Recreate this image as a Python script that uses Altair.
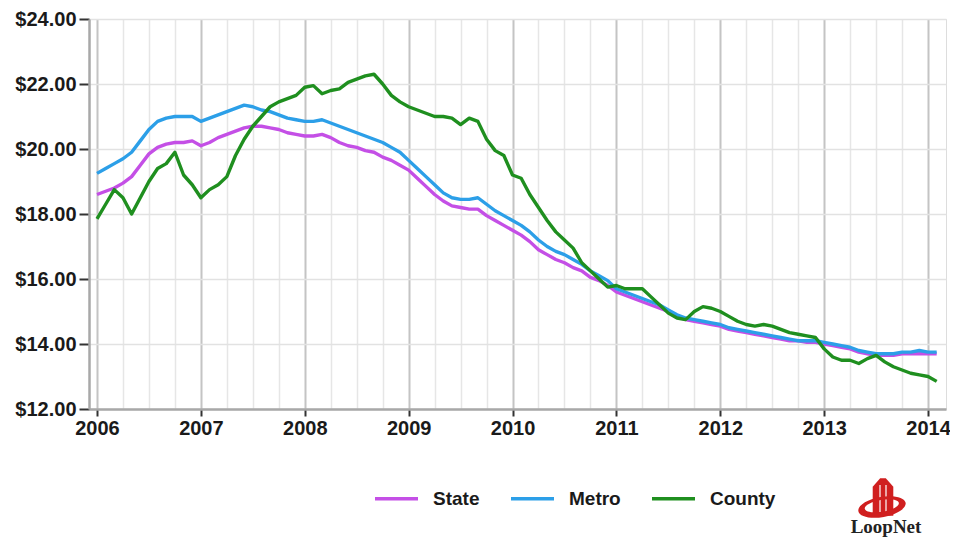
import altair as alt
import pandas as pd

# Monthly asking rents, Jan 2006 .. Feb 2014
start_year = 2006
state = [18.6, 18.7, 18.8, 18.95, 19.15, 19.5, 19.85, 20.05, 20.15, 20.2, 20.2, 20.25,
         20.1, 20.2, 20.35, 20.45, 20.55, 20.65, 20.7, 20.7, 20.65, 20.6, 20.5, 20.45,
         20.4, 20.4, 20.45, 20.35, 20.2, 20.1, 20.05, 19.95, 19.9, 19.75, 19.65, 19.5,
         19.35, 19.1, 18.85, 18.6, 18.4, 18.25, 18.2, 18.15, 18.15, 17.95, 17.8, 17.65,
         17.5, 17.35, 17.15, 16.9, 16.75, 16.6, 16.5, 16.35, 16.25, 16.05, 15.95, 15.8,
         15.6, 15.5, 15.4, 15.3, 15.2, 15.1, 15.0, 14.85, 14.75, 14.7, 14.65, 14.6,
         14.55, 14.45, 14.4, 14.35, 14.3, 14.25, 14.2, 14.15, 14.1, 14.1, 14.05, 14.05,
         14.0, 13.95, 13.9, 13.85, 13.75, 13.7, 13.65, 13.65, 13.65, 13.7, 13.7, 13.7,
         13.7, 13.7]
metro = [19.25, 19.4, 19.55, 19.7, 19.9, 20.25, 20.6, 20.85, 20.95, 21.0, 21.0, 21.0,
         20.85, 20.95, 21.05, 21.15, 21.25, 21.35, 21.3, 21.2, 21.15, 21.05, 20.95, 20.9,
         20.85, 20.85, 20.9, 20.8, 20.7, 20.6, 20.5, 20.4, 20.3, 20.2, 20.05, 19.9,
         19.65, 19.4, 19.15, 18.9, 18.65, 18.5, 18.45, 18.45, 18.5, 18.3, 18.1, 17.95,
         17.8, 17.65, 17.45, 17.2, 17.0, 16.85, 16.75, 16.6, 16.45, 16.25, 16.1, 15.95,
         15.7, 15.6, 15.5, 15.4, 15.3, 15.2, 15.05, 14.9, 14.8, 14.75, 14.7, 14.65,
         14.6, 14.5, 14.45, 14.4, 14.35, 14.3, 14.25, 14.2, 14.15, 14.1, 14.1, 14.1,
         14.05, 14.0, 13.95, 13.9, 13.8, 13.75, 13.7, 13.7, 13.7, 13.75, 13.75, 13.8,
         13.75, 13.75]
county = [17.85, 18.3, 18.75, 18.5, 18.0, 18.5, 19.0, 19.4, 19.55, 19.9, 19.2, 18.9,
          18.5, 18.75, 18.9, 19.15, 19.8, 20.3, 20.7, 21.0, 21.3, 21.45, 21.55, 21.65,
          21.9, 21.95, 21.7, 21.8, 21.85, 22.05, 22.15, 22.25, 22.3, 22.0, 21.65, 21.45,
          21.3, 21.2, 21.1, 21.0, 21.0, 20.95, 20.75, 20.95, 20.85, 20.3, 19.95, 19.8,
          19.2, 19.1, 18.6, 18.2, 17.8, 17.45, 17.2, 16.95, 16.5, 16.25, 16.0, 15.75,
          15.8, 15.7, 15.7, 15.7, 15.45, 15.2, 14.95, 14.8, 14.75, 15.0, 15.15, 15.1,
          15.0, 14.85, 14.7, 14.6, 14.55, 14.6, 14.55, 14.45, 14.35, 14.3, 14.25, 14.2,
          13.85, 13.6, 13.5, 13.5, 13.4, 13.55, 13.65, 13.45, 13.3, 13.2, 13.1, 13.05,
          13.0, 12.85]

series_names = ["State", "Metro", "County"]
series_colors = ["#c44fe6", "#2c9fe8", "#1f8f1f"]
quarter_ticks = [2006 + q * 0.25 for q in range(0, 33)]
y_ticks = [12, 14, 16, 18, 20, 22, 24]

rows = []
for name, vals in zip(series_names, [state, metro, county]):
    for m, v in enumerate(vals):
        rows.append({"t": start_year + m / 12.0, "value": v, "series": name})
df = pd.DataFrame(rows)

FONT = "Liberation Sans"

x_axis = alt.Axis(
    values=quarter_ticks,
    labelExpr="datum.value % 1 === 0 ? format(datum.value, 'd') : ''",
    labelFont=FONT, labelFontSize=20, labelFontWeight="bold", labelColor="#1a1a1a",
    labelPadding=2, labelFlush=False, labelOverlap=False,
    tickSize=7, tickWidth=2, tickColor="#333333",
    tickOpacity={"condition": {"test": "datum.value % 1 === 0", "value": 1}, "value": 0},
    gridColor={"condition": {"test": "datum.value % 1 === 0", "value": "#c4c4c4"}, "value": "#e6e6e6"},
    gridWidth={"condition": {"test": "datum.value % 1 === 0", "value": 2}, "value": 1.5},
    domainColor="#a8a8a8", domainWidth=2.5, title=None,
)
y_axis = alt.Axis(
    values=y_ticks, format="$.2f",
    labelFont=FONT, labelFontSize=20, labelFontWeight="bold", labelColor="#1a1a1a",
    labelPadding=3, labelFlush=False,
    tickSize=10, tickWidth=2, tickColor="#333333",
    gridColor="#e2e2e2", gridWidth=1.5,
    domainColor="#a8a8a8", domainWidth=2.5, title=None,
)

lines = alt.Chart(df).mark_line(strokeWidth=3.4, strokeJoin="round").encode(
    x=alt.X("t:Q", scale=alt.Scale(domain=[2005.923, 2014.173], nice=False, zero=False), axis=x_axis),
    y=alt.Y("value:Q", scale=alt.Scale(domain=[12, 24], nice=False, zero=False), axis=y_axis),
    color=alt.Color(
        "series:N",
        scale=alt.Scale(domain=series_names, range=series_colors),
        sort=series_names,
        legend=alt.Legend(
            orient="none", legendX=284, legendY=456, direction="horizontal",
            title=None, symbolType="stroke", symbolSize=1849, symbolStrokeWidth=3.4,
            labelFont=FONT, labelFontSize=19, labelFontWeight="bold", labelColor="#1a1a1a",
            labelOffset=13, columnPadding=24, padding=0,
        ),
    ),
    order=alt.Order("t:Q"),
)

# LoopNet logo (decorative)
logo_df = pd.DataFrame({"label": ["LoopNet"]})
tower_path = "M -0.55 1 L -0.55 -0.55 L -0.15 -1 L 0.15 -1 L 0.55 -0.55 L 0.55 1 Z"
swoosh_path = ("M -1 0 A 1 0.42 0 1 0 1 0 A 1 0.42 0 1 0 -1 0 Z "
               "M -0.72 -0.05 A 0.72 0.25 0 1 1 0.72 -0.05 A 0.72 0.25 0 1 1 -0.72 -0.05 Z")
logo_tower = alt.Chart(logo_df).mark_point(
    shape=tower_path, filled=True, color="#d01f1f", opacity=1, size=1400,
).encode(x=alt.value(794), y=alt.value(478))
logo_stripe1 = alt.Chart(logo_df).mark_rule(color="#ffffff", strokeWidth=1.5, opacity=0.8).encode(
    x=alt.value(791), y=alt.value(466), y2=alt.value(493)
)
logo_stripe2 = alt.Chart(logo_df).mark_rule(color="#ffffff", strokeWidth=1.5, opacity=0.8).encode(
    x=alt.value(797), y=alt.value(466), y2=alt.value(493)
)
logo_swoosh = alt.Chart(logo_df).mark_point(
    shape=swoosh_path, filled=True, color="#d01f1f", opacity=1, size=2304, angle=350,
).encode(x=alt.value(793), y=alt.value(488))
logo_text = alt.Chart(logo_df).mark_text(
    font="Liberation Serif", fontSize=19, fontWeight="bold", color="#222222",
    align="center", baseline="middle",
).encode(text="label:N", x=alt.value(797), y=alt.value(508))

chart = alt.layer(lines, logo_tower, logo_stripe1, logo_stripe2, logo_swoosh, logo_text).properties(
    width=857, height=390,
    autosize=alt.AutoSizeParams(type="none"),
    padding={"left": 81, "top": 11, "right": 4, "bottom": 131},
).configure_view(stroke="#e6e6e6", strokeWidth=1.5).configure(background="white")

chart.save("out.html", embed_options={"renderer": "svg", "actions": False})
